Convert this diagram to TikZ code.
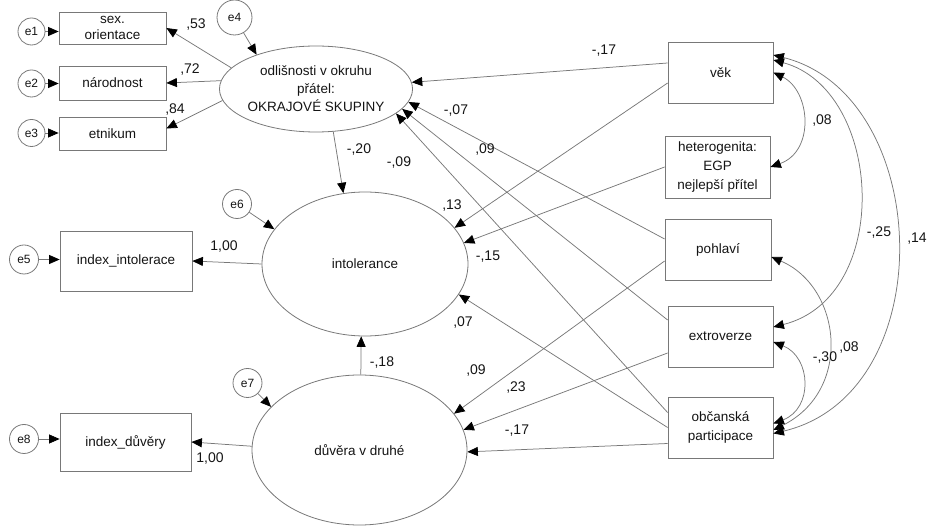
\documentclass[tikz,border=0pt]{standalone}
\usepackage{fontspec}
\setmainfont{Liberation Sans}
\usetikzlibrary{arrows.meta,shapes.geometric}
\definecolor{ln}{RGB}{120,120,120}
\definecolor{tx}{RGB}{20,20,20}
\begin{document}
\begin{tikzpicture}[x=1pt,y=-1pt,
  every node/.style={text=tx, font=\fontsize{13.5}{18}\selectfont},
  obs/.style={draw=ln, line width=0.8pt, rectangle, inner sep=0pt, align=center},
  lat/.style={draw=ln, line width=0.8pt, ellipse, inner sep=0pt, align=center},
  err/.style={draw=ln, line width=0.8pt, circle, inner sep=0pt, font=\fontsize{12}{14}\selectfont},
  pth/.style={draw=ln, line width=0.75pt, -{Triangle[length=10.5pt,width=9pt,color=black]}},
  cov/.style={draw=ln, line width=0.75pt, {Triangle[length=10.5pt,width=9pt,color=black]}-{Triangle[length=10.5pt,width=9pt,color=black]}},
  lbl/.style={font=\fontsize{14}{16}\selectfont, inner sep=0pt}
]
\useasboundingbox (0,0) rectangle (930,526);

% observed, left
\node[obs, minimum width=107pt, minimum height=32pt, font=\fontsize{13.5}{15.5}\selectfont] (sex) at (112.5,28) {sex.\\orientace};
\node[obs, minimum width=107pt, minimum height=34pt] (nar) at (112.5,83) {národnost};
\node[obs, minimum width=107pt, minimum height=33pt] (etn) at (112.5,133.5) {etnikum};
\node[err, minimum size=27pt] (e1) at (31.5,31.5) {e1};
\node[err, minimum size=27pt] (e2) at (31.5,83.5) {e2};
\node[err, minimum size=27pt] (e3) at (31.5,133) {e3};
\node[err, minimum size=35pt] (e4) at (234.5,17.5) {e4};

% latent
\node[lat, minimum width=170pt, minimum height=86pt] (od) at (316,89) {odlišnosti v okruhu\\přátel:\\OKRAJOVÉ SKUPINY};
\node[lat, minimum width=206pt, minimum height=144pt] (int) at (365,264) {intolerance};
\node[lat, minimum width=215pt, minimum height=150pt] (duv) at (359.5,450) {důvěra v druhé};

\node[obs, minimum width=132pt, minimum height=60pt] (idxint) at (126,261) {index\_intolerace};
\node[obs, minimum width=131pt, minimum height=58pt] (idxduv) at (125.5,442) {index\_důvěry};
\node[err, minimum size=29pt] (e5) at (24,259.5) {e5};
\node[err, minimum size=29pt] (e6) at (237,204) {e6};
\node[err, minimum size=29pt] (e7) at (247.5,383) {e7};
\node[err, minimum size=29pt] (e8) at (24,439) {e8};

% observed, right
\node[obs, minimum width=105pt, minimum height=61pt] (vek) at (720.5,72.5) {věk};
\node[obs, minimum width=105pt, minimum height=62pt, font=\fontsize{13.5}{19}\selectfont] (het) at (717.5,167) {heterogenita:\\EGP\\nejlepší přítel};
\node[obs, minimum width=106pt, minimum height=61pt] (poh) at (718,249.5) {pohlaví};
\node[obs, minimum width=105pt, minimum height=61pt] (ext) at (720.5,336.5) {extroverze};
\node[obs, minimum width=105pt, minimum height=61pt, font=\fontsize{13.5}{19}\selectfont] (obc) at (720.5,427.5) {občanská\\participace};

% measurement paths
\draw[pth] (od.166) -- (sex.east);
\draw[pth] (od.175) -- (nar.east);
\draw[pth] (od.187) -- ([yshift=5pt]etn.east);
\draw[pth] (e1) -- (e1 -| sex.west);
\draw[pth] (e2) -- (e2 -| nar.west);
\draw[pth] (e3) -- (e3 -| etn.west);
\draw[pth] (e4) -- (od.150);
\draw[pth] (int.west) -- (idxint.east);
\draw[pth] (duv.178) -- (idxduv.east);
\draw[pth] (e5) -- (e5 -| idxint.west);
\draw[pth] (e8) -- (e8 -| idxduv.west);
\draw[pth] (e6) -- (int.159);
\draw[pth] (e7) -- (duv.154);

% structural paths
\draw[pth] (od.-68) -- (int.107);
\draw[pth] (duv.89) -- (int.267);
\draw[pth] ([yshift=9.5pt]vek.west) -- (od.4);
\draw[pth] ([yshift=10.5pt]poh.west) -- (od.-8);
\draw[pth] ([yshift=16.5pt]ext.west) -- (od.-13);
\draw[pth] ([yshift=15pt]obc.west) -- (od.-17);
\draw[pth] ([yshift=-10.5pt]vek.west) -- (int.22);
\draw[pth] (het.west) -- (int.12);
\draw[pth] (obc.west) -- (int.-18);
\draw[pth] ([yshift=-11.5pt]poh.west) -- (duv.21);
\draw[pth] ([yshift=-16.5pt]ext.west) -- (duv.11);
\draw[pth] ([yshift=-16pt]obc.west) -- (duv.-1);

% covariances
\draw[cov] (vek.east) .. controls +(37,18) and +(45,-16) .. (het.east);
\draw[cov] ([yshift=12.5pt]vek.east) .. controls +(110,30) and +(120,-30) .. ([yshift=9.5pt]ext.east);
\draw[cov] ([yshift=17.5pt]vek.east) .. controls +(160,40) and +(170,-40) .. ([yshift=-6pt]obc.east);
\draw[cov] ([yshift=-7.5pt]poh.east) .. controls +(70,30) and +(80,-40) .. ([yshift=-2.5pt]obc.east);
\draw[cov] ([yshift=-5.5pt]ext.east) .. controls +(38,15) and +(40,-15) .. ([yshift=4pt]obc.east);

% labels
\node[lbl] (l53) at (196,25) {,53};
\node[lbl] (l72) at (190,70) {,72};
\node[lbl] (l84) at (175,110) {,84};
\node[lbl] (lv) at (604,51) {-,17};
\node[lbl] (lp) at (456,111) {-,07};
\node[lbl] (lpo) at (485,150) {,09};
\node[lbl] (lo) at (399,163) {-,09};
\node[lbl] (l20) at (359,150) {-,20};
\node[lbl] (l13) at (452,206) {,13};
\node[lbl] (l15) at (488,257) {-,15};
\node[lbl] (l07) at (463,323) {,07};
\node[lbl] (l09) at (476,371) {,09};
\node[lbl] (l23) at (516,388) {,23};
\node[lbl] (l17) at (517,431) {-,17};
\node[lbl] (l18) at (382,363) {-,18};
\node[lbl] (l100a) at (224,247) {1,00};
\node[lbl] (l100b) at (210,459) {1,00};
\node[lbl] (c08a) at (822,121) {,08};
\node[lbl] (c25) at (879,233) {-,25};
\node[lbl] (c14) at (917,239) {,14};
\node[lbl] (c30) at (825,358) {-,30};
\node[lbl] (c08b) at (849,348) {,08};
\end{tikzpicture}
\end{document}
